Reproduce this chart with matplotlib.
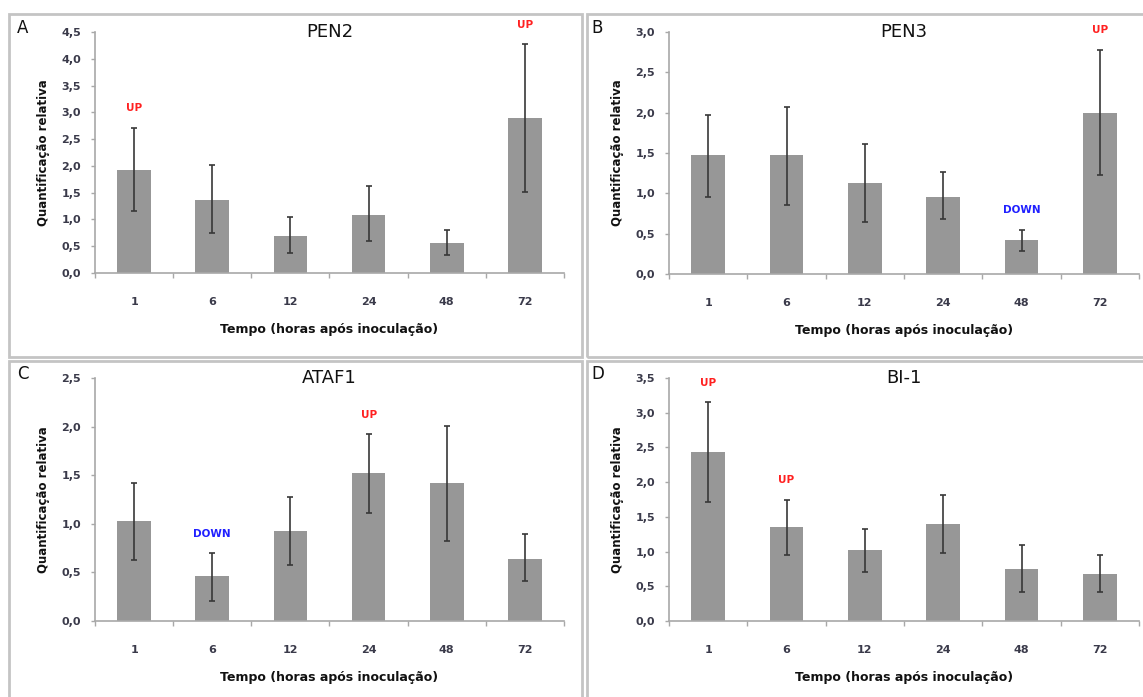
import matplotlib
matplotlib.use('Agg')
import matplotlib.pyplot as plt
from matplotlib.patches import Rectangle
from matplotlib.ticker import FuncFormatter, MultipleLocator

W, H = 1143, 697

TEMPOS = ['1', '6', '12', '24', '48', '72']

# relative quantification (bar) and lower / upper limits of the error bars
PEN2 = [1.93, 1.36, 0.70, 1.09, 0.56, 2.89]
PEN2_LOW = [1.16, 0.74, 0.37, 0.59, 0.33, 1.51]
PEN2_HIGH = [2.71, 2.01, 1.04, 1.63, 0.81, 4.27]
PEN2_MARKS = {0: 'UP', 5: 'UP'}

PEN3 = [1.47, 1.47, 1.13, 0.96, 0.42, 1.99]
PEN3_LOW = [0.96, 0.86, 0.64, 0.68, 0.29, 1.23]
PEN3_HIGH = [1.97, 2.07, 1.61, 1.26, 0.55, 2.78]
PEN3_MARKS = {4: 'DOWN', 5: 'UP'}

ATAF1 = [1.03, 0.46, 0.93, 1.52, 1.42, 0.64]
ATAF1_LOW = [0.63, 0.21, 0.58, 1.11, 0.82, 0.41]
ATAF1_HIGH = [1.42, 0.70, 1.28, 1.92, 2.01, 0.89]
ATAF1_MARKS = {1: 'DOWN', 3: 'UP'}

BI1 = [2.43, 1.35, 1.02, 1.40, 0.75, 0.68]
BI1_LOW = [1.71, 0.95, 0.71, 0.98, 0.42, 0.42]
BI1_HIGH = [3.15, 1.75, 1.33, 1.82, 1.09, 0.95]
BI1_MARKS = {0: 'UP', 1: 'UP'}

BAR_COLOR = '#979797'
AXIS_COLOR = '#a8a8a8'
TEXT_COLOR = '#3a3a4a'
MARK_COLORS = {'UP': '#ff2020', 'DOWN': '#2020ff'}


def px_box(left, top, right, bottom):
  return [left / W, 1 - bottom / H, (right - left) / W, (bottom - top) / H]


def comma(v, pos):
  return ('%.1f' % v).replace('.', ',')


def draw_panel(fig, box, letter, title, vals, low, high, marks, ymax):
  ax = fig.add_axes(px_box(*box))
  x = list(range(len(TEMPOS)))
  err = [[v - l for v, l in zip(vals, low)], [h - v for v, h in zip(vals, high)]]
  ax.bar(x, vals, width=0.43, color=BAR_COLOR, zorder=2)
  ax.errorbar(x, vals, yerr=err, fmt='none', ecolor='#383838', elinewidth=1.2,
              capsize=2.5, capthick=1.2, zorder=3)

  for i, label in marks.items():
    ax.annotate(label, (i, high[i]), xytext=(0, 14), textcoords='offset points',
                ha='center', va='center', fontsize=7.5, fontweight='bold',
                color=MARK_COLORS[label], annotation_clip=False)

  ax.set_xlim(-0.5, len(TEMPOS) - 0.5)
  ax.set_ylim(0, ymax)
  ax.yaxis.set_major_locator(MultipleLocator(0.5))
  ax.yaxis.set_major_formatter(FuncFormatter(comma))
  ax.set_xticks(x)
  ax.set_xticklabels(TEMPOS)
  ax.set_xticks([i - 0.5 for i in range(len(TEMPOS) + 1)], minor=True)

  for side in ['top', 'right']:
    ax.spines[side].set_visible(False)
  for side in ['left', 'bottom']:
    ax.spines[side].set_color(AXIS_COLOR)
    ax.spines[side].set_linewidth(1.2)

  ax.tick_params(axis='x', which='major', length=0, pad=17, labelsize=8,
                 labelcolor=TEXT_COLOR)
  ax.tick_params(axis='x', which='minor', length=3.5, color=AXIS_COLOR, width=1)
  ax.tick_params(axis='y', length=3, color=AXIS_COLOR, width=1, pad=7,
                 labelsize=8, labelcolor=TEXT_COLOR)
  for lab in ax.get_xticklabels() + ax.get_yticklabels():
    lab.set_fontweight('bold')

  ax.set_xlabel('Tempo (horas após inoculação)', fontsize=9, fontweight='bold',
                labelpad=12, color='#111111')
  ax.set_ylabel('Quantificação relativa', fontsize=8.5, fontweight='bold',
                labelpad=8, color='#111111')
  ax.text(0.5, 1.0, title, transform=ax.transAxes, fontsize=13,
          ha='center', va='center', color='#111111')
  fig.text((box[0] - 78) / W, 1 - (box[1] - 4) / H, letter, fontsize=12,
           ha='left', va='center', color='#111111')
  return ax


fig = plt.figure(figsize=(W / 100, H / 100), dpi=100)

# light grey frames around each panel
for l, t, r, b in [(9, 14, 582, 357), (587, 14, 1150, 357),
                   (9, 361, 582, 705), (587, 361, 1150, 705)]:
  fig.patches.append(Rectangle((l / W, 1 - b / H), (r - l) / W, (b - t) / H,
                               transform=fig.transFigure, fill=False,
                               edgecolor='#c4c4c4', linewidth=2))

draw_panel(fig, (95, 32, 564, 273), 'A', 'PEN2', PEN2, PEN2_LOW, PEN2_HIGH, PEN2_MARKS, 4.5)
draw_panel(fig, (669, 32, 1139, 274), 'B', 'PEN3', PEN3, PEN3_LOW, PEN3_HIGH, PEN3_MARKS, 3.0)
draw_panel(fig, (95, 378, 564, 621), 'C', 'ATAF1', ATAF1, ATAF1_LOW, ATAF1_HIGH, ATAF1_MARKS, 2.5)
draw_panel(fig, (669, 378, 1139, 621), 'D', 'BI-1', BI1, BI1_LOW, BI1_HIGH, BI1_MARKS, 3.5)

fig.savefig('out.png', dpi=100)
